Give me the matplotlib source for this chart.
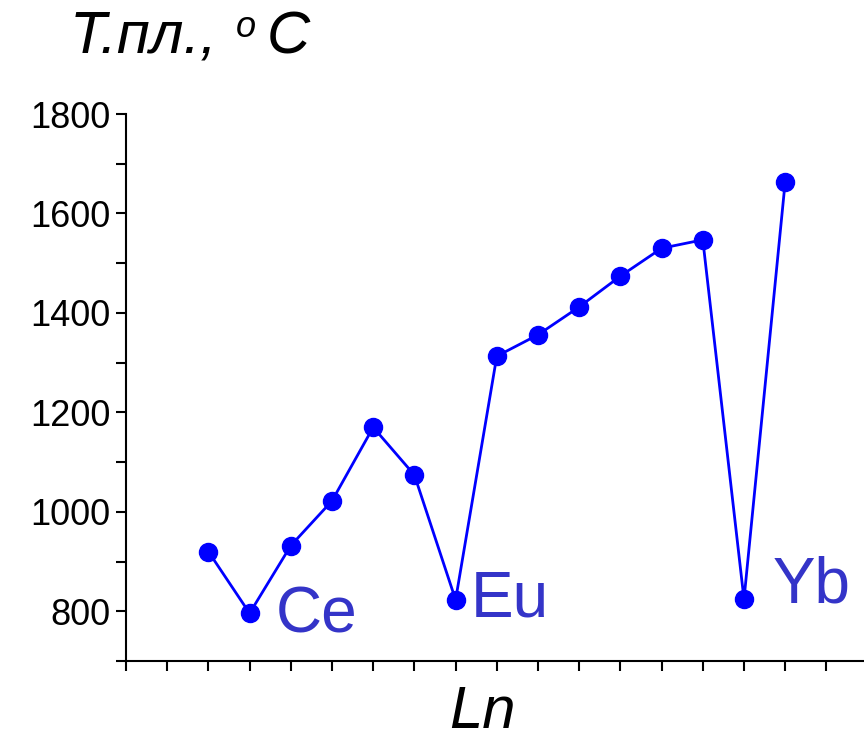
import matplotlib
matplotlib.use("Agg")
import matplotlib.pyplot as plt
from matplotlib.ticker import MultipleLocator

plt.rcParams['font.family'] = ['Liberation Sans', 'DejaVu Sans']

# lanthanides, atomic number vs melting point (deg C)
elements = ['La', 'Ce', 'Pr', 'Nd', 'Pm', 'Sm', 'Eu', 'Gd', 'Tb', 'Dy', 'Ho', 'Er', 'Tm', 'Yb', 'Lu']
z_num = [57, 58, 59, 60, 61, 62, 63, 64, 65, 66, 67, 68, 69, 70, 71]
t_melt = [920, 796, 932, 1022, 1170, 1074, 823, 1313, 1356, 1412, 1474, 1530, 1547, 824, 1664]
marked = ['Ce', 'Eu', 'Yb']
y_ticks = [800, 1000, 1200, 1400, 1600, 1800]

fig = plt.figure(figsize=(8.64, 7.41), dpi=100)
ax = fig.add_axes([126/864, 1-661/741, 738/864, 547/741])

ax.plot(z_num, t_melt, color='#0000ff', lw=2.0, marker='o', ms=13, clip_on=False)

# offsets (pixels) of the element labels from their points
offs = {'Ce': (26, -19), 'Eu': (15, -17), 'Yb': (29, -3)}
for el, z, t in zip(elements, z_num, t_melt):
    if el in marked:
        dx, dy = offs[el]
        ax.annotate(el, (z, t), xytext=(dx*0.72, dy*0.72), textcoords='offset points',
                    fontsize=46, color='#3434c8', ha='left', va='baseline')

ax.set_xlim(55, 55 + 738/41.2)
ax.set_ylim(700, 1800)
ax.set_yticks(y_ticks)
ax.yaxis.set_minor_locator(MultipleLocator(100))
ax.xaxis.set_major_locator(MultipleLocator(1))
ax.set_xticklabels([])
for s in ['top', 'right']:
    ax.spines[s].set_visible(False)
for s in ['left', 'bottom']:
    ax.spines[s].set_linewidth(1.5)
ax.tick_params(which='both', direction='out', length=7.5, width=1.5)
ax.tick_params(axis='y', labelsize=26, pad=3.5)

# axis titles
fig.text(70/864, 1-53/741, 'Т.пл.,', fontsize=43, style='italic', ha='left', va='baseline')
fig.text(236/864, 1-37/741, 'o', fontsize=26, style='italic', ha='left', va='baseline')
fig.text(267/864, 1-53/741, 'C', fontsize=43, style='italic', ha='left', va='baseline')
fig.text(482/864, 1-728/741, 'Ln', fontsize=43, style='italic', ha='center', va='baseline')

fig.savefig('out.png', dpi=100)
